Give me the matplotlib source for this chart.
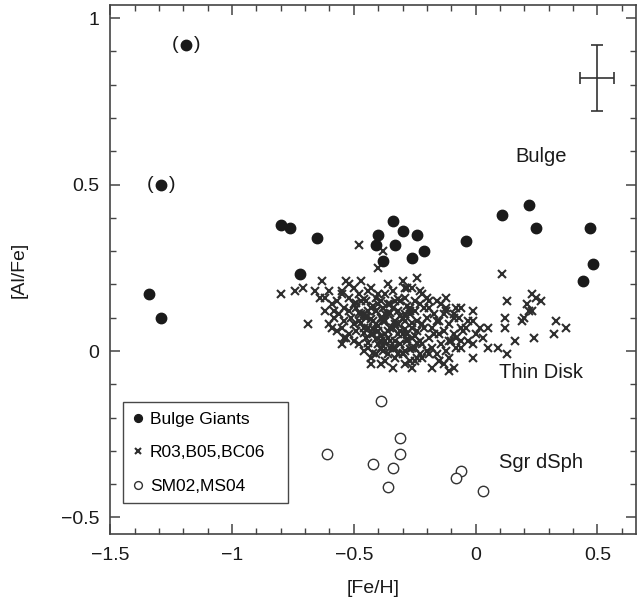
import matplotlib
matplotlib.use("Agg")
import matplotlib.pyplot as plt
from matplotlib.ticker import MultipleLocator

plt.rcParams['font.family'] = ['Liberation Sans', 'DejaVu Sans']

## Bulge giants (filled circles)
giant_fe = [-1.19, -1.29, -1.34, -1.29, -0.80, -0.76, -0.65, -0.72,
            -0.34, -0.40, -0.30, -0.24, -0.41, -0.33, -0.21, -0.26, -0.38,
            -0.04, 0.11, 0.22, 0.25, 0.47, 0.48, 0.44]
giant_al = [0.92, 0.50, 0.17, 0.10, 0.38, 0.37, 0.34, 0.23,
            0.39, 0.35, 0.36, 0.35, 0.32, 0.32, 0.30, 0.28, 0.27,
            0.33, 0.41, 0.44, 0.37, 0.37, 0.26, 0.21]
# the two uncertain ones get parentheses
uncertain = [0, 1]

## R03, B05, BC06 (crosses)
disk_fe = [
    -0.48, -0.38, -0.40, -0.63, -0.53, -0.74, -0.66, -0.62, -0.55, -0.58,
    -0.69, -0.59, -0.53, -0.55, -0.43, -0.39, -0.24, -0.29, -0.23, 0.11,
    -0.12, -0.19, -0.06, -0.01, 0.13, 0.23, 0.27, 0.22, 0.20, 0.12,
    0.12, 0.33, 0.37, 0.32, 0.24, 0.16, 0.09, 0.13, 0.02, 0.05,
    0.03, 0.05, -0.01, -0.11, -0.15, -0.22, -0.26, -0.06, -0.04, -0.01,
    -0.09, -0.12, -0.80, -0.71, 0.21, 0.23, 0.25, 0.19,
    # core
    -0.52, -0.47, -0.43, -0.36, -0.30, -0.26,
    -0.60, -0.55, -0.50, -0.44, -0.40, -0.34, -0.28, -0.22,
    -0.64, -0.57, -0.52, -0.48, -0.45, -0.41, -0.37, -0.33, -0.29, -0.25, -0.20, -0.16,
    -0.59, -0.54, -0.50, -0.47, -0.43, -0.40, -0.38, -0.35, -0.31, -0.27, -0.23, -0.19, -0.14, -0.08,
    -0.62, -0.56, -0.52, -0.49, -0.46, -0.44, -0.41, -0.37, -0.34, -0.32, -0.29, -0.25, -0.21, -0.17, -0.12, -0.09,
    -0.58, -0.54, -0.51, -0.47, -0.45, -0.42, -0.39, -0.36, -0.33, -0.30, -0.27, -0.24, -0.20, -0.16, -0.13, -0.07, -0.03,
    -0.60, -0.55, -0.50, -0.48, -0.44, -0.41, -0.38, -0.35, -0.32, -0.29, -0.26, -0.22, -0.18, -0.15, -0.11, -0.06,
    -0.57, -0.52, -0.49, -0.46, -0.43, -0.40, -0.37, -0.34, -0.31, -0.28, -0.24, -0.21, -0.17, -0.13, -0.09, -0.05, 0.00,
    -0.54, -0.50, -0.45, -0.42, -0.39, -0.36, -0.33, -0.30, -0.26, -0.23, -0.19, -0.15, -0.11, -0.08, -0.03,
    -0.48, -0.44, -0.40, -0.37, -0.34, -0.31, -0.28, -0.25, -0.22, -0.18, -0.14, -0.10, -0.06, -0.01,
    -0.46, -0.41, -0.38, -0.35, -0.32, -0.29, -0.26, -0.23, -0.20, -0.16, -0.12, -0.08,
    -0.43, -0.37, -0.33, -0.30, -0.27, -0.24, -0.19, -0.15, -0.11,
    -0.39, -0.34, -0.29, -0.25, -0.18, -0.13, -0.09,
    # densest part
    -0.49, -0.46, -0.42, -0.39, -0.36, -0.32, -0.28,
    -0.48, -0.45, -0.41, -0.38, -0.35, -0.31, -0.27,
    -0.47, -0.43, -0.40, -0.37, -0.33, -0.30, -0.26,
    -0.46, -0.42, -0.39, -0.36, -0.32, -0.29, -0.25,
    -0.44, -0.41, -0.38, -0.35, -0.31, -0.28, -0.24,
    -0.42, -0.39, -0.36, -0.33, -0.30, -0.27,
]
disk_al = [
    0.32, 0.30, 0.25, 0.21, 0.21, 0.18, 0.18, 0.16, 0.18, 0.12,
    0.08, 0.07, 0.04, 0.02, -0.04, 0.01, 0.22, 0.19, 0.18, 0.23,
    0.16, 0.15, 0.13, 0.12, 0.15, 0.17, 0.15, 0.12, 0.10, 0.10,
    0.07, 0.09, 0.07, 0.05, 0.04, 0.03, 0.01, -0.01, 0.07, 0.07,
    0.04, 0.01, -0.02, -0.06, -0.03, -0.02, -0.05, 0.03, 0.07, 0.09,
    0.10, 0.13, 0.17, 0.19, 0.14, 0.12, 0.16, 0.09,
    # core
    0.20, 0.21, 0.19, 0.20, 0.21, 0.19,
    0.18, 0.17, 0.19, 0.18, 0.17, 0.18, 0.19, 0.17,
    0.16, 0.15, 0.16, 0.17, 0.15, 0.16, 0.17, 0.15, 0.16, 0.15, 0.16, 0.15,
    0.14, 0.13, 0.14, 0.15, 0.13, 0.14, 0.13, 0.14, 0.15, 0.13, 0.14, 0.13, 0.14, 0.13,
    0.12, 0.11, 0.12, 0.13, 0.11, 0.12, 0.12, 0.11, 0.13, 0.12, 0.11, 0.12, 0.13, 0.11, 0.12, 0.11,
    0.10, 0.09, 0.10, 0.11, 0.10, 0.09, 0.10, 0.11, 0.09, 0.10, 0.11, 0.09, 0.10, 0.09, 0.11, 0.10, 0.09,
    0.08, 0.07, 0.08, 0.09, 0.07, 0.08, 0.09, 0.07, 0.08, 0.09, 0.07, 0.08, 0.07, 0.09, 0.08, 0.07,
    0.06, 0.05, 0.06, 0.07, 0.05, 0.06, 0.05, 0.07, 0.06, 0.05, 0.06, 0.07, 0.05, 0.06, 0.05, 0.06, 0.05,
    0.04, 0.03, 0.04, 0.05, 0.03, 0.04, 0.03, 0.05, 0.04, 0.03, 0.04, 0.05, 0.03, 0.04, 0.03,
    0.02, 0.01, 0.02, 0.03, 0.01, 0.02, 0.03, 0.01, 0.02, 0.01, 0.02, 0.03, 0.01, 0.02,
    0.00, -0.01, 0.00, 0.01, -0.01, 0.00, 0.01, -0.01, 0.00, -0.01, 0.00, 0.01,
    -0.02, -0.03, -0.02, -0.01, -0.03, -0.02, -0.01, -0.03, -0.02,
    -0.04, -0.05, -0.04, -0.03, -0.05, -0.04, -0.05,
    # densest part
    0.145, 0.155, 0.135, 0.150, 0.140, 0.155, 0.135,
    0.115, 0.105, 0.120, 0.100, 0.115, 0.105, 0.120,
    0.085, 0.095, 0.075, 0.090, 0.080, 0.095, 0.085,
    0.055, 0.065, 0.045, 0.060, 0.050, 0.065, 0.045,
    0.025, 0.035, 0.015, 0.030, 0.020, 0.035, 0.025,
    -0.005, 0.005, -0.010, 0.010, -0.005, 0.005,
]

## SM02, MS04 (open circles)
sgr_fe = [-0.39, -0.31, -0.31, -0.61, -0.42, -0.34, -0.36, -0.06, -0.08, 0.03]
sgr_al = [-0.15, -0.26, -0.31, -0.31, -0.34, -0.35, -0.41, -0.36, -0.38, -0.42]

## typical error bar
err_fe, err_al = 0.50, 0.82
err_x, err_y = 0.07, 0.10

ink = '#1a1a1a'
fig = plt.figure(figsize=(6.37, 6.09), dpi=100)
ax = fig.add_axes([0.173, 0.123, 0.826, 0.869])

ax.plot(disk_fe, disk_al, 'x', color='#2e2e2e', ms=5.5, mew=1.5,
        label='R03,B05,BC06')
ax.plot(giant_fe, giant_al, 'o', color=ink, ms=7.5, mec=ink,
        label='Bulge Giants')
ax.plot(sgr_fe, sgr_al, 'o', mfc='white', mec='#333333', ms=7.5, mew=1.0,
        label='SM02,MS04')

for i in uncertain:
    ax.annotate('(', (giant_fe[i], giant_al[i]), xytext=(-8, 0),
                textcoords='offset points', ha='center', va='center',
                fontsize=14, color=ink)
    ax.annotate(')', (giant_fe[i], giant_al[i]), xytext=(8, 0),
                textcoords='offset points', ha='center', va='center',
                fontsize=14, color=ink)

ax.errorbar([err_fe], [err_al], xerr=[err_x], yerr=[err_y], fmt='none',
            ecolor='#333333', elinewidth=1.2, capsize=4, capthick=1.2)

ax.text(0.27, 0.585, 'Bulge', fontsize=14.5, ha='center', va='center', color=ink)
ax.text(0.27, -0.066, 'Thin Disk', fontsize=14.5, ha='center', va='center', color=ink)
ax.text(0.27, -0.335, 'Sgr dSph', fontsize=14.5, ha='center', va='center', color=ink)

ax.set_xlim(-1.5, 0.66)
ax.set_ylim(-0.55, 1.04)
ax.xaxis.set_minor_locator(MultipleLocator(0.1))
ax.yaxis.set_minor_locator(MultipleLocator(0.1))
ax.set_xticks([-1.5, -1, -0.5, 0, 0.5])
ax.set_xticklabels(['\u22121.5', '\u22121', '\u22120.5', '0', '0.5'])
ax.set_yticks([-0.5, 0, 0.5, 1])
ax.set_yticklabels(['\u22120.5', '0', '0.5', '1'])
ax.tick_params(which='both', direction='in', top=True, right=True,
               labelsize=14, colors='#444444', labelcolor=ink)
ax.tick_params(which='major', length=7, width=1.1)
ax.tick_params(axis='x', which='major', pad=9)
ax.tick_params(axis='y', which='major', pad=8)
ax.tick_params(which='minor', length=4, width=1.0)
for s in ax.spines.values():
    s.set_color('#444444')
    s.set_linewidth(1.2)

ax.set_xlabel('[Fe/H]', fontsize=14, color=ink, labelpad=12)
ax.set_ylabel('[Al/Fe]', fontsize=14, color=ink, labelpad=24)

handles, labels = ax.get_legend_handles_labels()
order = [1, 0, 2]
leg = ax.legend([handles[i] for i in order], [labels[i] for i in order],
                loc='lower left', bbox_to_anchor=(0.024, 0.058, 0.314, 0.19),
                mode='expand', fontsize=12.5, frameon=True, fancybox=False,
                edgecolor=ink, handlelength=0.6, handletextpad=0.4,
                borderpad=0.55, labelspacing=1.05, markerscale=0.75,
                borderaxespad=0)
leg.get_frame().set_linewidth(1.0)

plt.savefig('out.png', dpi=100)
